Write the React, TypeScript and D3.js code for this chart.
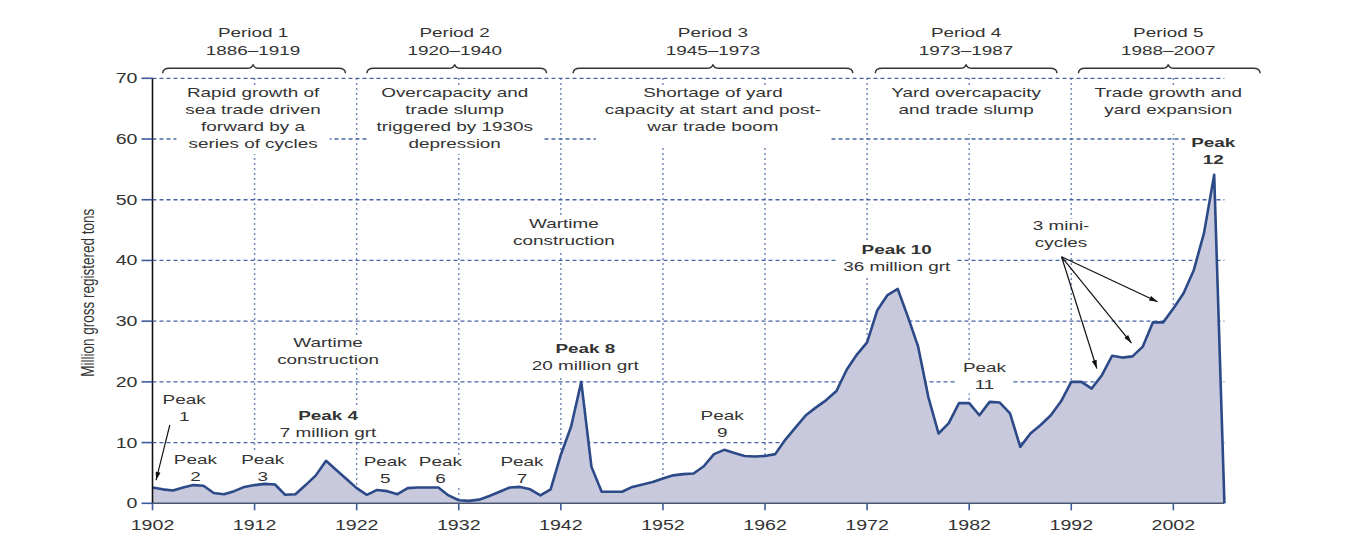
import * as d3 from "d3";
import { useEffect, useRef } from "react";

// annual deliveries, million grt, 1902..2007
const firstYear = 1902;
const tonnage = [
  2.6, 2.3, 2.1, 2.6, 3.0, 2.9, 1.7, 1.5, 2.0, 2.7, // 1902-1911
  3.0, 3.2, 3.1, 1.4, 1.5, 3.0, 4.6, 7.0, 5.5, 4.0, // 1912-1921
  2.5, 1.4, 2.2, 2.0, 1.5, 2.5, 2.6, 2.6, 2.6, 1.3, // 1922-1931
  0.5, 0.4, 0.6, 1.2, 1.9, 2.6, 2.7, 2.3, 1.3, 2.3, // 1932-1941
  8.0, 12.6, 20.0, 6.0, 1.9, 1.9, 1.9, 2.7, 3.1, 3.5, // 1942-1951
  4.1, 4.6, 4.8, 4.9, 6.1, 8.1, 8.8, 8.3, 7.8, 7.7, // 1952-1961
  7.8, 8.1, 10.5, 12.5, 14.5, 15.8, 17.0, 18.5, 22.0, 24.5, // 1962-1971
  26.5, 31.8, 34.3, 35.3, 30.7, 25.8, 17.5, 11.5, 13.2, 16.5, // 1972-1981
  16.5, 14.5, 16.7, 16.6, 14.8, 9.3, 11.5, 12.9, 14.5, 16.8, // 1982-1991
  20.0, 20.0, 18.9, 21.1, 24.3, 24.0, 24.2, 25.8, 29.8, 29.8, // 1992-2001
  32.1, 34.6, 38.4, 44.5, 54.1, 0, // 2002-2007
];
const yTicks = [0, 10, 20, 30, 40, 50, 60, 70];
const xTicks = [1902, 1912, 1922, 1932, 1942, 1952, 1962, 1972, 1982, 1992, 2002];

const periodTitles = ["Period 1", "Period 2", "Period 3", "Period 4", "Period 5"];
const periodSpans = ["1886–1919", "1920–1940", "1945–1973", "1973–1987", "1988–2007"];
const periodNotes = [
  ["Rapid growth of", "sea trade driven", "forward by a", "series of cycles"],
  ["Overcapacity and", "trade slump", "triggered by 1930s", "depression"],
  ["Shortage of yard", "capacity at start and post-", "war trade boom"],
  ["Yard overcapacity", "and trade slump"],
  ["Trade growth and", "yard expansion"],
];

// annotation layout, in chart units (year, million grt)
const braceYears = [
  [1903, 1920.9],
  [1923, 1940.6],
  [1943.2, 1970.6],
  [1972.8, 1990.6],
  [1992.7, 2010.5],
];
const periodCentres = [1911.85, 1931.6, 1956.9, 1981.7, 2001.5];
const notePads = [4, 4, 12, 18, 18];

const labels = [
  { lines: ["Peak", "1"], year: 1905.1, value: 16.3, bold: 0 },
  { lines: ["Peak", "2"], year: 1906.2, value: 6.5, bold: 0 },
  { lines: ["Peak", "3"], year: 1912.8, value: 6.5, bold: 0 },
  { lines: ["Peak 4", "7 million grt"], year: 1919.2, value: 13.8, bold: 1 },
  { lines: ["Wartime", "construction"], year: 1919.2, value: 25.8, bold: 0 },
  { lines: ["Peak", "5"], year: 1924.8, value: 6.1, bold: 0 },
  { lines: ["Peak", "6"], year: 1930.2, value: 6.1, bold: 0 },
  { lines: ["Peak", "7"], year: 1938.2, value: 6.1, bold: 0 },
  { lines: ["Peak 8", "20 million grt"], year: 1944.4, value: 24.7, bold: 1 },
  { lines: ["Wartime", "construction"], year: 1942.3, value: 45.3, bold: 0 },
  { lines: ["Peak", "9"], year: 1957.8, value: 13.7, bold: 0 },
  { lines: ["Peak 10", "36 million grt"], year: 1974.9, value: 41.1, bold: 1 },
  { lines: ["Peak", "11"], year: 1983.5, value: 21.6, bold: 0 },
  { lines: ["3 mini-", "cycles"], year: 1991.0, value: 45.0, bold: 0 },
  { lines: ["Peak", "12"], year: 2005.9, value: 58.7, bold: 2 },
];

const arrows = [
  [[1903.7, 12.9], [1902.35, 3.8]],
  [[1991.05, 40.6], [1994.5, 22.2]],
  [[1991.05, 40.6], [1997.9, 26.4]],
  [[1991.05, 40.6], [2000.45, 33.2]],
];

const SX = 1.4; // the original type is set wide
const FONT = "'Liberation Sans', Arial, Helvetica, sans-serif";
const GRID = "#4664a6";
const INK = "#333";

export default function App() {
  const svgRef = useRef<SVGSVGElement>(null);
  const width = 1362;
  const height = 540;

  const x = d3.scaleLinear().domain([1902, 2007]).range([152.5, 1224.4]);
  const y = d3.scaleLinear().domain([0, 70]).range([503.3, 78.3]);

  useEffect(() => {
    document.body.style.margin = "0";
    const svg = d3.select(svgRef.current);
    svg.selectAll("*").remove();
    svg.attr("width", width).attr("height", height).style("display", "block");

    svg.append("rect").attr("width", width).attr("height", height).attr("fill", "#fff");

    const defs = svg.append("defs");
    defs
      .append("marker")
      .attr("id", "ah")
      .attr("viewBox", "0 0 10 6")
      .attr("refX", 10)
      .attr("refY", 3)
      .attr("markerWidth", 10)
      .attr("markerHeight", 5)
      .attr("markerUnits", "userSpaceOnUse")
      .attr("orient", "auto")
      .append("path")
      .attr("d", "M0,0 L10,3 L0,6 z")
      .attr("fill", "#111");

    const gGrid = svg.append("g");
    const gHalo = svg.append("g");
    const gArea = svg.append("g");
    const gArrow = svg.append("g");
    const gText = svg.append("g").attr("font-family", FONT).attr("fill", INK);

    // grid
    gGrid
      .selectAll("line.h")
      .data(yTicks.filter((t) => t > 0))
      .join("line")
      .attr("x1", x(1902))
      .attr("x2", x(2007))
      .attr("y1", (d) => y(d))
      .attr("y2", (d) => y(d))
      .attr("stroke", GRID)
      .attr("stroke-width", 1.3)
      .attr("stroke-dasharray", "4,3");
    gGrid
      .selectAll("line.v")
      .data(xTicks.filter((t) => t > 1902))
      .join("line")
      .attr("x1", (d) => x(d))
      .attr("x2", (d) => x(d))
      .attr("y1", y(70))
      .attr("y2", y(0))
      .attr("stroke", GRID)
      .attr("stroke-width", 1.5)
      .attr("stroke-dasharray", "1.5,3.5");

    const addLine = (
      g: d3.Selection<SVGGElement, unknown, null, undefined>,
      tx: number,
      ty: number,
      str: string,
      opts: { bold?: boolean; size?: number; anchor?: string } = {}
    ) =>
      g
        .append("text")
        .attr("transform", `translate(${tx},${ty}) scale(${SX},1)`)
        .attr("text-anchor", opts.anchor || "middle")
        .attr("font-size", opts.size || 13.5)
        .attr("font-weight", opts.bold ? "bold" : "normal")
        .text(str);

    const halo = (
      nodes: d3.Selection<SVGTextElement, unknown, null, undefined>[],
      padX: number,
      padBottom: number
    ) => {
      let x0 = Infinity,
        x1 = -Infinity,
        y0 = Infinity,
        y1 = -Infinity;
      nodes.forEach((n) => {
        const el = n.node() as SVGTextElement;
        const bb = el.getBBox();
        const m = /translate\(([-\d.]+),([-\d.]+)\)/.exec(el.getAttribute("transform") || "");
        const tx = m ? +m[1] : 0;
        const ty = m ? +m[2] : 0;
        x0 = Math.min(x0, tx + bb.x * SX);
        x1 = Math.max(x1, tx + (bb.x + bb.width) * SX);
        y0 = Math.min(y0, ty + bb.y);
        y1 = Math.max(y1, ty + bb.y + bb.height);
      });
      gHalo
        .append("rect")
        .attr("x", x0 - padX)
        .attr("y", y0 + 1)
        .attr("width", x1 - x0 + padX * 2)
        .attr("height", y1 - y0 - 1 + padBottom)
        .attr("fill", "#fff");
    };

    // area
    const area = d3
      .area<number>()
      .x((_, i) => x(firstYear + i))
      .y0(y(0))
      .y1((d) => y(d));
    const line = d3
      .line<number>()
      .x((_, i) => x(firstYear + i))
      .y((d) => y(d));
    gArea.append("path").attr("d", area(tonnage)).attr("fill", "#c9c9de");
    gArea
      .append("path")
      .attr("d", line(tonnage))
      .attr("fill", "none")
      .attr("stroke", "#2b4a87")
      .attr("stroke-width", 2.6)
      .attr("stroke-linejoin", "round");

    // axes
    gArea
      .append("line")
      .attr("x1", x(1902))
      .attr("x2", x(2007))
      .attr("y1", y(0))
      .attr("y2", y(0))
      .attr("stroke", "#4a5670")
      .attr("stroke-width", 1.6);
    gArea
      .append("line")
      .attr("x1", x(1902))
      .attr("x2", x(1902))
      .attr("y1", y(70))
      .attr("y2", y(0))
      .attr("stroke", "#111")
      .attr("stroke-width", 1.6);
    gArea
      .selectAll("line.yt")
      .data(yTicks)
      .join("line")
      .attr("x1", x(1902) - 11)
      .attr("x2", x(1902))
      .attr("y1", (d) => y(d))
      .attr("y2", (d) => y(d))
      .attr("stroke", "#3d5a9a")
      .attr("stroke-width", 1.6);
    gArea
      .selectAll("line.xt")
      .data(xTicks)
      .join("line")
      .attr("x1", (d) => x(d))
      .attr("x2", (d) => x(d))
      .attr("y1", y(0))
      .attr("y2", y(0) + 7)
      .attr("stroke", "#3d5a9a")
      .attr("stroke-width", 1.6);

    yTicks.forEach((t) => addLine(gText, x(1902) - 15, y(t) + 5, String(t), { size: 14, anchor: "end" }));
    xTicks.forEach((t) => addLine(gText, x(t), y(0) + 27, String(t), { size: 14 }));

    gText
      .append("text")
      .attr("transform", `translate(94,${y(35) + 2}) scale(${SX},1) rotate(-90)`)
      .attr("text-anchor", "middle")
      .attr("font-size", 13.5)
      .text("Million gross registered tons");

    // period braces and headers
    braceYears.forEach(([a, b], i) => {
      const x0 = x(a);
      const x1 = x(b);
      const cx = x(periodCentres[i]);
      const yb = y(70) - 10;
      const p = d3.path();
      p.moveTo(x0, yb + 5);
      p.quadraticCurveTo(x0, yb, x0 + 7, yb);
      p.lineTo(cx - 6, yb);
      p.quadraticCurveTo(cx - 1, yb, cx, yb - 4);
      p.quadraticCurveTo(cx + 1, yb, cx + 6, yb);
      p.lineTo(x1 - 7, yb);
      p.quadraticCurveTo(x1, yb, x1, yb + 5);
      gText
        .append("path")
        .attr("d", p.toString())
        .attr("fill", "none")
        .attr("stroke", "#333")
        .attr("stroke-width", 1.4);
      addLine(gText, cx, y(70) - 41.3, periodTitles[i]);
      addLine(gText, cx, y(70) - 23.3, periodSpans[i]);
      const nodes = periodNotes[i].map((s, j) => addLine(gText, cx, y(70) + 18.2 + j * 17, s));
      halo(nodes, 9, notePads[i]);
    });

    // annotations
    labels.forEach((l) => {
      const nodes = l.lines.map((s, j) =>
        addLine(gText, x(l.year), y(l.value) + j * 17, s, {
          bold: l.bold === 2 || (l.bold === 1 && j === 0),
        })
      );
      halo(nodes, 6, 2);
    });

    arrows.forEach(([a, b]) => {
      gArrow
        .append("line")
        .attr("x1", x(a[0]))
        .attr("y1", y(a[1]))
        .attr("x2", x(b[0]))
        .attr("y2", y(b[1]))
        .attr("stroke", "#111")
        .attr("stroke-width", 1.2)
        .attr("marker-end", "url(#ah)");
    });
  }, []);

  return <svg ref={svgRef}></svg>;
}
